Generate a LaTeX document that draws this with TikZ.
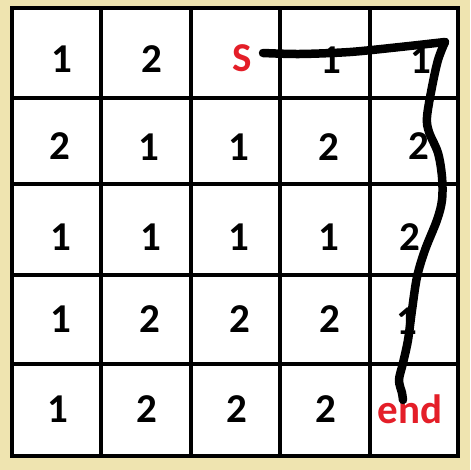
\documentclass[tikz,border=0pt]{standalone}
\usepackage{fontspec}
\setmainfont{Carlito}
\definecolor{cream}{RGB}{239,228,176}
\definecolor{redtxt}{RGB}{228,30,40}
\tikzset{
  gridline/.style={line width=3.2pt, black},
  numtxt/.style={font=\fontsize{41}{48}\selectfont\bfseries, inner sep=0pt, text=black},
  redlbl/.style={font=\fontsize{41}{48}\selectfont\bfseries, inner sep=0pt, text=redtxt},
  stroke/.style={line width=8.5pt, black, line cap=round, line join=round}
}
\begin{document}
\begin{tikzpicture}[x=1pt,y=-1pt]
\useasboundingbox (0,0) rectangle (470,470);
\fill[cream] (0,0) rectangle (470,470);
\fill[white] (12,8) rectangle (458,456);
% grid
\foreach \x in {101,191,280,370} \draw[gridline] (\x,8) -- (\x,456);
\foreach \y in {98,184,275,364} \draw[gridline] (12,\y) -- (458,\y);
\draw[gridline, line width=4pt] (12,8) rectangle (458,456);
% row 1
\node[numtxt] (c11) at (62,59.5) {1};
\node[numtxt] (c12) at (152,59.5) {2};
\node[redlbl] (c13) at (242,58) {S};
\node[numtxt] (c14) at (331,60) {1};
\node[numtxt] (c15) at (421,60) {1};
% row 2
\node[numtxt] (c21) at (60,146) {2};
\node[numtxt] (c22) at (149,147) {1};
\node[numtxt] (c23) at (239,147) {1};
\node[numtxt] (c24) at (328.5,147) {2};
\node[numtxt] (c25) at (419,146) {2};
% row 3
\node[numtxt] (c31) at (61,237) {1};
\node[numtxt] (c32) at (151,237) {1};
\node[numtxt] (c33) at (239,237) {1};
\node[numtxt] (c34) at (329,237) {1};
\node[numtxt] (c35) at (410,237) {2};
% row 4
\node[numtxt] (c41) at (61,319) {1};
\node[numtxt] (c42) at (150,319) {2};
\node[numtxt] (c43) at (240,319) {2};
\node[numtxt] (c44) at (330,319) {2};
\node[numtxt] (c45) at (407,321) {1};
% row 5
\node[numtxt] (c51) at (57.5,409) {1};
\node[numtxt] (c52) at (147,409) {2};
\node[numtxt] (c53) at (237,409) {2};
\node[numtxt] (c54) at (326,409) {2};
\node[redlbl, anchor=base] (c55) at (410,423) {end};
% hand-drawn path
\coordinate (pstart) at (263,53);
\coordinate (pcorner) at (445,42);
\coordinate (pend) at (403,400);
\draw[stroke] plot[smooth, tension=0.5] coordinates {(pstart) (300,54) (350,52) (400,47) (pcorner)};
\draw[stroke] plot[smooth, tension=0.55] coordinates {(pcorner) (438,60) (432,87) (427,117) (429,132) (438,153) (442,177) (442,200) (437,220) (425,250) (417,277) (412,310) (408,340) (403,363) (399,380) (402,393) (pend)};
\end{tikzpicture}
\end{document}
